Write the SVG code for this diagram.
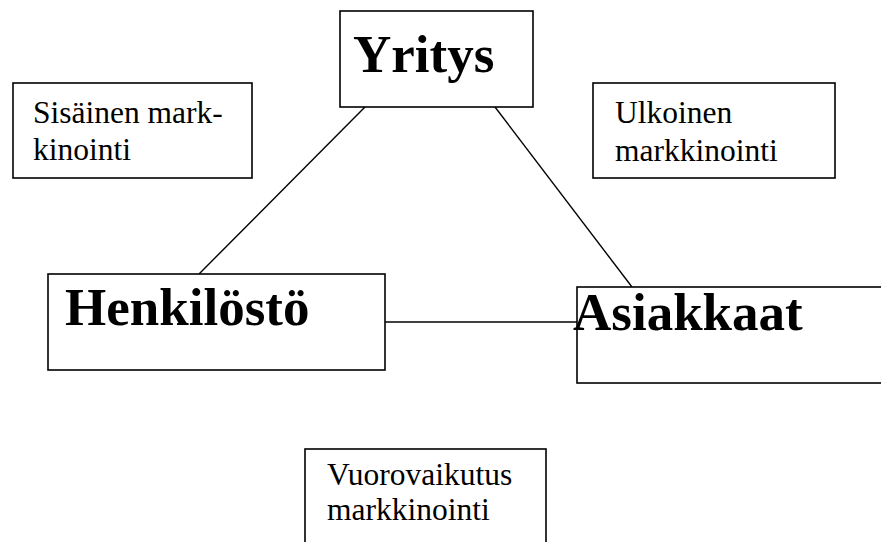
<svg xmlns="http://www.w3.org/2000/svg" width="881" height="542" viewBox="0 0 881 542">
  <style>
    .box { fill: #fff; stroke: #000; stroke-width: 1.6; }
    .edge { stroke: #000; stroke-width: 1.4; fill: none; }
    .big { font-family: "Liberation Serif", "Times New Roman", serif; font-weight: bold; font-size: 53px; fill: #000; }
    .small { font-family: "Liberation Serif", "Times New Roman", serif; font-size: 31.5px; fill: #000; }
  </style>
  <rect width="881" height="542" fill="#fff"/>

  <!-- connectors -->
  <g id="connectors">
    <line class="edge" x1="365" y1="107" x2="199" y2="274"/>
    <line class="edge" x1="495" y1="107" x2="632" y2="287"/>
    <line class="edge" x1="385" y1="322" x2="577" y2="322"/>
  </g>

  <g id="yritys">
    <rect class="box" x="340" y="11" width="193" height="96"/>
    <text class="big" x="353" y="72">Yritys</text>
  </g>

  <g id="sisainen">
    <rect class="box" x="13" y="83" width="239" height="95"/>
    <text class="small" x="33" y="123">Sisäinen mark-</text>
    <text class="small" x="33" y="160">kinointi</text>
  </g>

  <g id="ulkoinen">
    <rect class="box" x="593" y="83" width="242" height="95"/>
    <text class="small" x="615" y="123">Ulkoinen</text>
    <text class="small" x="615" y="161">markkinointi</text>
  </g>

  <g id="henkilosto">
    <rect class="box" x="48" y="274" width="337" height="96"/>
    <text class="big" x="65" y="325">Henkilöstö</text>
  </g>

  <g id="asiakkaat">
    <rect class="box" x="577" y="287" width="320" height="96"/>
    <text class="big" x="573" y="330">Asiakkaat</text>
  </g>

  <g id="vuorovaikutus">
    <rect class="box" x="305" y="449" width="241" height="110"/>
    <text class="small" x="327" y="485">Vuorovaikutus</text>
    <text class="small" x="327" y="520">markkinointi</text>
  </g>
</svg>
